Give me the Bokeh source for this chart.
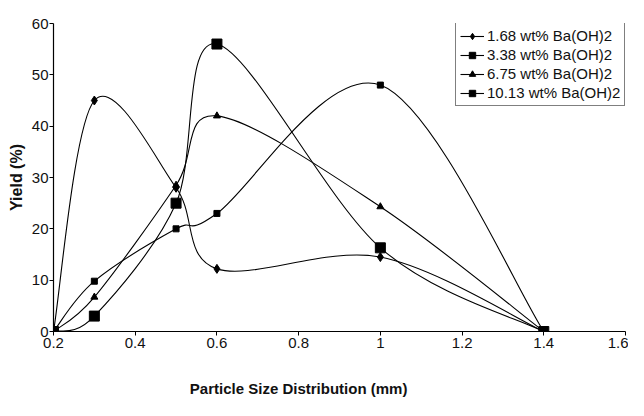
import numpy as np
from bokeh.plotting import figure
from bokeh.models import Range1d, Legend, LegendItem, FixedTicker, ColumnDataSource, LinearAxis
from bokeh.embed import file_html
from bokeh.resources import INLINE

x_vals = [0.2, 0.3, 0.5, 0.6, 1.0, 1.4]
s1 = [0, 45, 28, 12.2, 14.5, 0]
s2 = [0, 9.8, 20, 23, 48, 0]
s3 = [0, 6.7, 28.5, 42, 24.3, 0]
s4 = [0, 3, 25, 56, 16.3, 0]
labels = ["1.68 wt% Ba(OH)2", "3.38 wt% Ba(OH)2", "6.75 wt% Ba(OH)2", "10.13 wt% Ba(OH)2"]
x_ticks = [0.2, 0.4, 0.6, 0.8, 1.0, 1.2, 1.4, 1.6]
x_tick_labels = {0.2: "0.2", 0.4: "0.4", 0.6: "0.6", 0.8: "0.8", 1.0: "1", 1.2: "1.2", 1.4: "1.4", 1.6: "1.6"}
y_ticks = [0, 10, 20, 30, 40, 50, 60]
x_title = "Particle Size Distribution (mm)"
x_title_center = 0.8
y_title = "Yield (%)"

FONT = "Liberation Sans"

p = figure(width=628, height=400, output_backend="svg", toolbar_location=None,
           x_range=Range1d(0.2, 1.6), y_range=Range1d(0, 60),
           min_border_left=53, min_border_right=3, min_border_top=23, min_border_bottom=69)
p.outline_line_color = None
p.xgrid.visible = False
p.ygrid.visible = False
p.background_fill_color = "white"
p.border_fill_color = "white"


def bezier_source(xs, ys):
    P = np.column_stack([xs, ys]).astype(float)
    n = len(P)
    x0, y0, x1, y1, cx0, cy0, cx1, cy1 = ([] for _ in range(8))
    for i in range(n - 1):
        pm = P[i - 1] if i > 0 else P[i]
        pa = P[i]
        pb = P[i + 1]
        pn = P[i + 2] if i + 2 < n else P[i + 1]
        c0 = pa + (pb - pm) / 6.0
        c1 = pb - (pn - pa) / 6.0
        x0.append(pa[0]); y0.append(pa[1]); x1.append(pb[0]); y1.append(pb[1])
        cx0.append(c0[0]); cy0.append(c0[1]); cx1.append(c1[0]); cy1.append(c1[1])
    return ColumnDataSource(dict(x0=x0, y0=y0, x1=x1, y1=y1, cx0=cx0, cy0=cy0, cx1=cx1, cy1=cy1))


series = [s1, s2, s3, s4]
markers = ["diamond", "square", "triangle", "square"]
sizes = [9, 6, 7, 10]
items = []
for ys, mk, sz, lab in zip(series, markers, sizes, labels):
    src = bezier_source(x_vals, ys)
    b = p.bezier(x0="x0", y0="y0", x1="x1", y1="y1", cx0="cx0", cy0="cy0", cx1="cx1", cy1="cy1",
                 source=src, line_color="black", line_width=1.1)
    sc = p.scatter(x_vals, ys, marker=mk, size=sz, fill_color="black", line_color="black")
    items.append(LegendItem(label=lab, renderers=[b, sc]))

legend = Legend(items=items, location=(402, 225))
legend.label_text_font = FONT
legend.label_text_font_size = "15px"
legend.label_text_color = "#111111"
legend.border_line_color = "black"
legend.border_line_width = 1
legend.background_fill_color = "white"
legend.background_fill_alpha = 1
legend.glyph_width = 24
legend.glyph_height = 16
legend.label_standoff = 3
legend.spacing = 2
legend.padding = 4
legend.margin = 0
legend.label_height = 16
p.add_layout(legend, "center")

p.xaxis.ticker = FixedTicker(ticks=x_ticks)
p.xaxis.major_label_overrides = x_tick_labels
p.yaxis.ticker = FixedTicker(ticks=y_ticks)
for ax in (p.xaxis[0], p.yaxis[0]):
    ax.axis_line_color = "black"
    ax.axis_line_width = 1.2
    ax.major_tick_line_color = "black"
    ax.major_tick_in = 0
    ax.major_tick_out = 4
    ax.minor_tick_line_color = None
    ax.major_label_text_font = FONT
    ax.major_label_text_font_size = "15px"
    ax.major_label_text_color = "#111111"
    ax.axis_label_text_font = FONT
    ax.axis_label_text_font_size = "16px"
    ax.axis_label_text_font_style = "bold"
    ax.axis_label_text_color = "#111111"

p.yaxis.axis_label = y_title
p.xaxis.major_label_standoff = 2
p.yaxis.major_label_standoff = 1
p.yaxis.axis_label_standoff = 4

# x-axis title, centred under x = 0.8 as in the reference
title_axis = LinearAxis(ticker=FixedTicker(ticks=[x_title_center]),
                        major_label_overrides={x_title_center: x_title})
title_axis.axis_line_color = None
title_axis.major_tick_line_color = None
title_axis.minor_tick_line_color = None
title_axis.major_tick_in = 0
title_axis.major_tick_out = 0
title_axis.major_label_standoff = 29
title_axis.major_label_text_font = FONT
title_axis.major_label_text_font_size = "15px"
title_axis.major_label_text_font_style = "bold"
title_axis.major_label_text_color = "#111111"
p.add_layout(title_axis, "below")

open("out.html", "w").write(file_html(p, INLINE))
